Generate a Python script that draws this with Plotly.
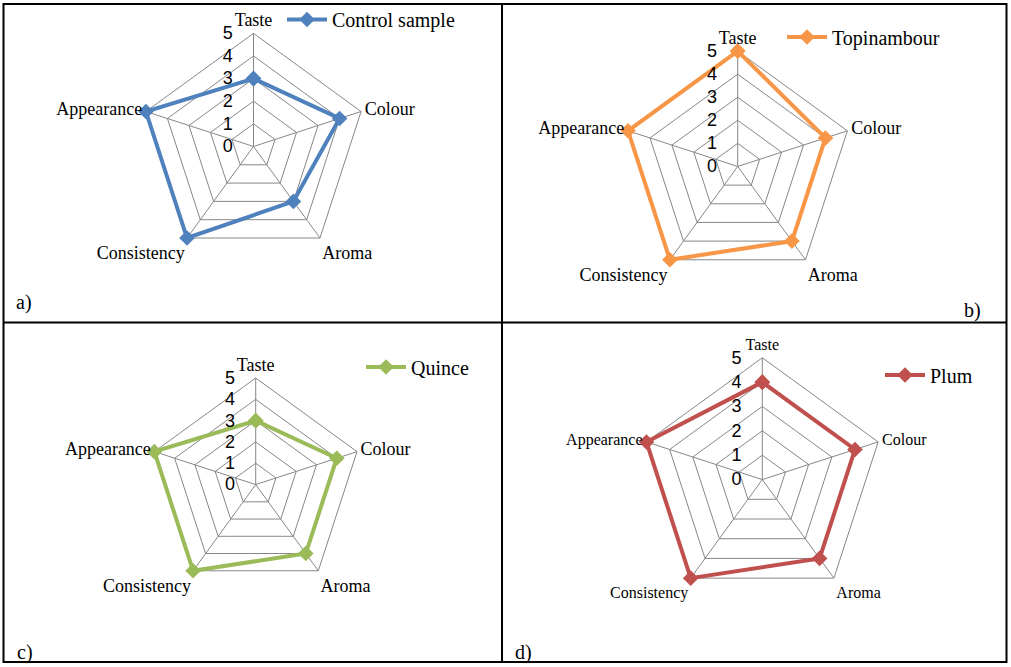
import plotly.graph_objects as go

W, H = 1011, 667

categories = ["Taste", "Colour", "Aroma", "Consistency", "Appearance"]
control_sample = [3, 4, 3, 5, 5]
topinambour = [5, 4, 4, 5, 5]
quince = [3, 4, 4, 5, 5]
plum = [4, 4, 4, 5, 5]
radial_ticks = [0, 1, 2, 3, 4, 5]
r_max = 5

series = [
    ("Control sample", control_sample, "#4F81BD"),
    ("Topinambour", topinambour, "#F79646"),
    ("Quince", quince, "#9BBB59"),
    ("Plum", plum, "#C0504D"),
]

# geometry (pixels): centre x, centre y, radius of value 5, category font size
panels = [
    (253.5, 145.7, 113.3, 18),
    (737.7, 165.7, 115.5, 18),
    (255.7, 484.3, 106.7, 18),
    (762.3, 479.3, 122.0, 16),
]
legend_pos = [(282, 19), (782, 37), (361, 367), (880, 375)]
panel_labels = [("a)", 14, 302), ("b)", 962, 310), ("c)", 15, 652), ("d)", 513, 652)]

pad = 1.03  # room outside the outer pentagon so the thick series line is not clipped
fig = go.Figure()
grid = "#878787"
serif = "Liberation Serif, Times New Roman, serif"

for i, ((name, vals, color), (cx, cy, r, fs)) in enumerate(zip(series, panels)):
    pid = "polar" if i == 0 else f"polar{i+1}"
    lid = "legend" if i == 0 else f"legend{i+1}"
    # spokes from centre to outer ring
    spoke_r, spoke_t = [], []
    for c in categories:
        spoke_r += [0, r_max, None]
        spoke_t += [c, c, None]
    fig.add_trace(go.Scatterpolar(
        r=spoke_r, theta=spoke_t, mode="lines", line=dict(color=grid, width=1),
        hoverinfo="skip", showlegend=False, subplot=pid, legend=lid,
    ))
    fig.add_trace(go.Scatterpolar(
        r=vals + vals[:1], theta=categories + categories[:1],
        mode="lines+markers", name=name, cliponaxis=False,
        line=dict(color=color, width=4),
        marker=dict(symbol="diamond", size=12, color=color),
        subplot=pid, legend=lid,
    ))
    R = r * pad
    fig.layout[pid] = dict(
        domain=dict(x=[(cx - R) / W, (cx + R) / W], y=[1 - (cy + R) / H, 1 - (cy - R) / H]),
        gridshape="linear",
        bgcolor="white",
        angularaxis=dict(
            rotation=90, direction="clockwise", categoryorder="array",
            categoryarray=categories, showline=False, showgrid=False, ticks="",
            tickfont=dict(family=serif, size=fs, color="black"),
        ),
        radialaxis=dict(
            range=[0, r_max * pad], tickvals=radial_ticks, angle=90, side="counterclockwise",
            tickangle=90, showline=False, gridcolor=grid, gridwidth=1,
            ticks="outside", ticklen=14, tickcolor="rgba(0,0,0,0)",
            tickfont=dict(family="Liberation Sans, Arial, sans-serif", size=18, color="black"),
        ),
    )
    lx, ly = legend_pos[i]
    fig.layout[lid] = dict(
        x=lx / W, y=1 - ly / H, xanchor="left", yanchor="middle",
        bgcolor="rgba(0,0,0,0)", borderwidth=0, itemwidth=40,
        font=dict(family=serif, size=20, color="black"),
        tracegroupgap=0,
    )

for txt, x, y in panel_labels:
    fig.add_annotation(text=txt, x=x / W, y=1 - y / H, xref="paper", yref="paper",
                       xanchor="left", yanchor="middle", showarrow=False,
                       font=dict(family=serif, size=20, color="black"))

line = dict(color="black", width=2)
fig.add_shape(type="rect", xref="paper", yref="paper", x0=3.5 / W, x1=1006.5 / W,
              y0=1 - 662 / H, y1=1 - 3 / H, line=line)
fig.add_shape(type="line", xref="paper", yref="paper", x0=502 / W, x1=502 / W,
              y0=1 - 662 / H, y1=1 - 3 / H, line=line)
fig.add_shape(type="line", xref="paper", yref="paper", x0=3.5 / W, x1=1006.5 / W,
              y0=1 - 322 / H, y1=1 - 322 / H, line=line)

fig.update_layout(
    width=W, height=H, margin=dict(l=0, r=0, t=0, b=0),
    paper_bgcolor="white", plot_bgcolor="white", showlegend=True,
)

fig.write_html(
    "out.html",
    config={"displayModeBar": False},
    post_script="document.body.style.margin='0';document.body.style.overflow='hidden';",
)
